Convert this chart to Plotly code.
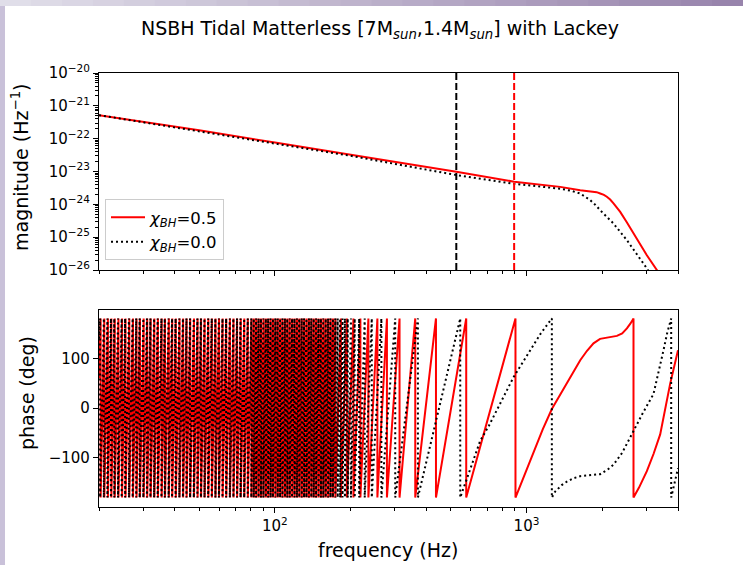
import plotly.graph_objects as go

# ---------------- data ----------------
F_RANGE_HZ = [20, 4000]

# magnitude |h(f)| (Hz^-1)
mag_freq_red = [20, 50, 100, 200, 526, 893, 1361, 1635, 1800, 1900, 1963, 2030, 2086, 2150, 2217, 2290,
                2357, 2500, 2662, 3008, 3296, 3600]
mag_red = [5.2e-22, 1.8e-22, 7.6e-23, 3.3e-23, 9.8e-24, 4.9e-24, 3.4e-24, 2.7e-24, 2.5e-24, 2.35e-24,
           2.14e-24, 1.95e-24, 1.7e-24, 1.4e-24, 1.07e-24, 7.9e-25, 5.9e-25, 2.9e-25, 1.29e-25, 2.8e-26,
           1.0e-26, 3.2e-27]
mag_freq_black = [20, 50, 100, 200, 526, 893, 1361, 1500, 1635, 1720, 1790, 1880, 1963, 2217, 2506, 3008, 3200]
mag_black = [5.2e-22, 1.7e-22, 7.1e-23, 3.0e-23, 7.8e-24, 4.2e-24, 3.0e-24, 2.6e-24, 2.14e-24, 1.7e-24,
             1.35e-24, 9.6e-25, 6.6e-25, 2.6e-25, 8.1e-26, 1.12e-26, 5.0e-27]

# vertical marker frequencies (Hz)
fline_black_hz = 526
fline_red_hz = 893

# phase: frequencies where the wrapped phase jumps from +180 to -180 (Hz)
red_start_deg = 60
red_wraps_hz = [20.3, 21.0, 21.7, 22.4, 23.1, 23.9, 24.7, 25.5, 26.4, 27.3, 28.2, 29.1, 30.1, 31.1, 32.1,
                33.2, 34.3, 35.5, 36.6, 37.9, 39.1, 40.4, 41.8, 43.2, 44.6, 46.1, 47.7, 49.3, 50.9, 52.6,
                54.4, 56.2, 58.1, 60.0, 62.0, 64.1, 66.3, 68.5, 70.8, 73.2, 75.6, 78.1, 80.7, 82.5, 84.3,
                86.2, 88.1, 90.1, 92.1, 94.1, 96.2, 98.3, 100.5, 102.7, 105.0, 107.3, 109.7, 112.1, 114.6,
                117.2, 119.8, 122.4, 125.1, 127.9, 130.8, 133.7, 136.6, 139.7, 142.8, 145.9, 149.2, 152.5,
                155.9, 159.3, 162.9, 166.5, 170.2, 174.0, 183.0, 193.3, 205.2, 218.7, 235.3, 255.5, 278.8,
                312.9, 361.3, 436.7, 576.0, 904.0]
red_tail_hz = [980, 1066, 1160, 1261, 1350, 1447, 1540, 1635, 1740, 1846, 1960, 2086, 2190, 2287, 2400, 2506,
               2590, 2662, 2662, 2800, 3008, 3200, 3398, 3550, 3724, 4000]
red_tail_deg = [-135, -87, -43, -2, 24, 49, 73, 96, 115, 130, 139, 142, 143, 145, 150, 160,
                170, 180, -180, -160, -127, -92, -53, -5, 49, 116]

black_start_deg = 140
black_wraps_hz = [20.2, 20.9, 21.6, 22.3, 23.0, 23.8, 24.6, 25.4, 26.3, 27.2, 28.1, 29.0, 30.0, 31.0, 32.0,
                  33.1, 34.2, 35.4, 36.5, 37.8, 39.0, 40.3, 41.7, 43.1, 44.5, 46.0, 47.6, 49.2, 50.8, 52.5,
                  54.3, 56.1, 58.0, 59.9, 61.9, 64.0, 66.2, 68.4, 70.7, 73.0, 75.5, 78.0, 80.6, 82.4, 84.2,
                  86.1, 88.0, 90.0, 92.0, 94.0, 96.1, 98.2, 100.4, 102.6, 104.9, 107.2, 109.6, 112.0, 114.5,
                  117.0, 119.6, 122.3, 125.0, 127.8, 130.6, 133.5, 136.5, 139.5, 142.6, 145.8, 149.0, 152.3,
                  155.7, 159.2, 162.7, 166.3, 170.0, 173.8, 177.7, 181.7, 185.7, 189.8, 194.8, 200.6, 207.6,
                  216.3, 227.5, 242.7, 265.0, 300.8, 370.2, 545.3]
black_tail_hz = [600, 654.6, 710, 762.8, 825, 888, 960, 1034, 1140, 1261, 1261, 1300, 1380, 1447, 1540, 1635,
                 1800, 1963, 2100, 2217, 2400, 2662, 2900, 3196, 3350, 3503, 3620, 3724, 3758, 3758, 4000]
black_tail_deg = [-120, -66, -35, -5, 30, 62, 90, 116, 150, 180, -180, -168, -155, -148, -141, -137,
                  -135, -133, -124, -114, -90, -46, -10, 28, 70, 116, 150, 177, 180, -180, -121]

# tick labels
x_major_hz = [100, 1000]
x_major_text = ["10<sup>2</sup>", "10<sup>3</sup>"]
mag_major = [1e-26, 1e-25, 1e-24, 1e-23, 1e-22, 1e-21, 1e-20]
mag_major_text = ["10<sup>\u221226</sup>", "10<sup>\u221225</sup>", "10<sup>\u221224</sup>",
                  "10<sup>\u221223</sup>", "10<sup>\u221222</sup>", "10<sup>\u221221</sup>",
                  "10<sup>\u221220</sup>"]
phase_ticks = [-100, 0, 100]

# ---------------- helpers ----------------
def phase_path(start_deg, wraps, tail_f, tail_deg):
    xs = [F_RANGE_HZ[0]]
    ys = [start_deg]
    for w in wraps:
        xs += [w, w]
        ys += [180, -180]
    xs += list(tail_f)
    ys += list(tail_deg)
    return xs, ys

x_minor = [m * d for d in (10, 100, 1000) for m in range(2, 10)]
x_minor = [v for v in x_minor if F_RANGE_HZ[0] <= v <= F_RANGE_HZ[1] and v not in x_major_hz]
mag_minor = [m * 10.0 ** e for e in range(-26, -20) for m in range(2, 10)]

RED = "#ff0000"
BLACK = "#000000"
FONT = "DejaVu Sans"

# ---------------- figure ----------------
fig = go.Figure()

fig.add_trace(go.Scatter(x=mag_freq_red, y=mag_red, mode="lines", name="<i>\u03c7<sub>BH</sub></i>=0.5",
                         line=dict(color=RED, width=2), xaxis="x", yaxis="y"))
fig.add_trace(go.Scatter(x=mag_freq_black, y=mag_black, mode="lines", name="<i>\u03c7<sub>BH</sub></i>=0.0",
                         line=dict(color=BLACK, width=2, dash="2px,3px"), xaxis="x", yaxis="y"))
fig.add_trace(go.Scatter(x=[fline_black_hz, fline_black_hz], y=[mag_major[-1], mag_major[0]], mode="lines",
                         showlegend=False, line=dict(color=BLACK, width=2, dash="7px,3px"),
                         xaxis="x", yaxis="y"))
fig.add_trace(go.Scatter(x=[fline_red_hz, fline_red_hz], y=[mag_major[-1], mag_major[0]], mode="lines",
                         showlegend=False, line=dict(color=RED, width=2, dash="7px,3px"),
                         xaxis="x", yaxis="y"))

rx, ry = phase_path(red_start_deg, red_wraps_hz, red_tail_hz, red_tail_deg)
bx, by = phase_path(black_start_deg, black_wraps_hz, black_tail_hz, black_tail_deg)
fig.add_trace(go.Scatter(x=rx, y=ry, mode="lines", showlegend=False,
                         line=dict(color=RED, width=2), xaxis="x2", yaxis="y2"))
fig.add_trace(go.Scatter(x=bx, y=by, mode="lines", showlegend=False,
                         line=dict(color=BLACK, width=2, dash="2px,3px"), xaxis="x2", yaxis="y2"))

W, H = 743, 565
L, R, T, B = 99, 65, 73, 58
ph = H - T - B  # 434
pw = W - L - R  # 579

def py(pix):
    return (H - B - pix) / ph

def px(pix):
    return (pix - L) / pw

axis_common = dict(showline=True, linecolor="black", linewidth=1.2, mirror=True, showgrid=False,
                   zeroline=False, ticks="outside", ticklen=5, tickwidth=1.1, tickcolor="black",
                   tickfont=dict(family=FONT, size=15, color="black"))

xr = [1.30103, 3.60206]
fig.update_layout(
    width=W, height=H,
    margin=dict(l=L, r=R, t=T, b=B, pad=0),
    paper_bgcolor="white", plot_bgcolor="white",
    font=dict(family=FONT, color="black"),
    xaxis=dict(type="log", range=xr, domain=[0, 1], anchor="y", tickvals=x_major_hz, ticktext=["", ""],
               minor=dict(tickmode="array", tickvals=x_minor, ticks="outside", ticklen=3,
                          tickcolor="black", tickwidth=0.8, showgrid=False),
               **axis_common),
    yaxis=dict(type="log", range=[-26, -20], domain=[py(270), 1], anchor="x", tickvals=mag_major,
               ticktext=mag_major_text,
               minor=dict(tickmode="array", tickvals=mag_minor, ticks="outside", ticklen=3,
                          tickcolor="black", tickwidth=0.8, showgrid=False),
               **axis_common),
    xaxis2=dict(type="log", range=xr, domain=[0, 1], anchor="y2", tickvals=x_major_hz, ticktext=x_major_text,
                minor=dict(tickmode="array", tickvals=x_minor, ticks="outside", ticklen=3,
                           tickcolor="black", tickwidth=0.8, showgrid=False),
                **axis_common),
    yaxis2=dict(range=[-199, 197], domain=[0, py(310)], anchor="x2", tickvals=phase_ticks, **axis_common),
    legend=dict(x=px(105), y=py(199), xanchor="left", yanchor="top", bgcolor="rgba(255,255,255,0.85)",
                bordercolor="#cccccc", borderwidth=1, font=dict(family=FONT, size=16.5, color="black"),
                itemwidth=34, tracegroupgap=0),
    title=dict(text="NSBH Tidal Matterless [7M<sub><i>sun</i></sub>,1.4M<sub><i>sun</i></sub>] with Lackey",
               xref="paper", x=px(380), xanchor="center", yref="container", y=1 - 28 / H, yanchor="middle",
               font=dict(family=FONT, size=19, color="black")),
)

fig.add_annotation(text="magnitude (Hz<sup>\u22121</sup>)", xref="paper", yref="paper", x=px(20), y=py(167),
                   textangle=-90, showarrow=False, xanchor="center", yanchor="middle",
                   font=dict(family=FONT, size=19, color="black"))
fig.add_annotation(text="phase (deg)", xref="paper", yref="paper", x=px(27), y=py(393),
                   textangle=-90, showarrow=False, xanchor="center", yanchor="middle",
                   font=dict(family=FONT, size=19, color="black"))
fig.add_annotation(text="frequency (Hz)", xref="paper", yref="paper", x=px(388), y=py(550),
                   showarrow=False, xanchor="center", yanchor="middle",
                   font=dict(family=FONT, size=19, color="black"))

# decorative lavender frame strips of the screenshot
shapes = [dict(type="rect", xref="paper", yref="paper", x0=px(0), x1=px(5), y0=py(H), y1=py(0),
               fillcolor="#c9c1d9", line=dict(width=0), layer="below")]
nseg = 24
c0 = (224, 222, 233)
c1 = (152, 132, 172)
for i in range(nseg):
    t = i / (nseg - 1)
    c = tuple(int(round(a + (b - a) * t)) for a, b in zip(c0, c1))
    shapes.append(dict(type="rect", xref="paper", yref="paper",
                       x0=px(W * i / nseg), x1=px(W * (i + 1) / nseg + 1), y0=py(6), y1=py(0),
                       fillcolor="rgb(%d,%d,%d)" % c, line=dict(width=0), layer="below"))
fig.update_layout(shapes=shapes)

fig.write_html("out.html")
